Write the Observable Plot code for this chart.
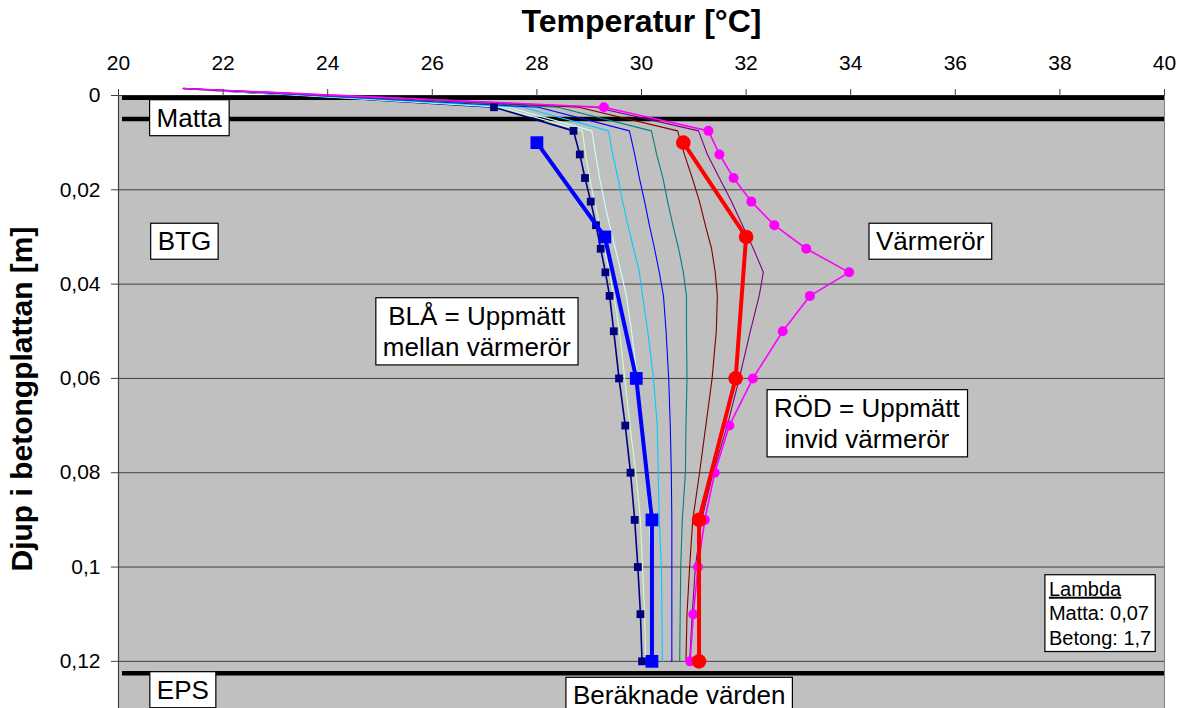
<!DOCTYPE html>
<html><head><meta charset="utf-8">
<script src="https://cdn.jsdelivr.net/npm/d3@7"></script>
<script src="https://cdn.jsdelivr.net/npm/@observablehq/plot@0.6"></script>
<style>
html,body{margin:0;padding:0;background:#fff;}
svg{display:block;}
</style></head><body>
<div id="chart"></div>
<script>
// ---------- data ----------
const xTicks = [20, 22, 24, 26, 28, 30, 32, 34, 36, 38, 40];
const yTicks = [0, 0.02, 0.04, 0.06, 0.08, 0.1, 0.12];

// calculated profiles (Beräknade värden)
const calcDepths = [-0.0015, 0.0025, 0.0075, 0.0125, 0.0175, 0.0225, 0.0275, 0.0325, 0.0375, 0.0425, 0.05, 0.06, 0.07, 0.08, 0.09, 0.1, 0.11, 0.12];
const navyT      = [21.24, 27.18, 28.70, 28.82, 28.92, 29.03, 29.13, 29.22, 29.31, 29.39, 29.47, 29.57, 29.69, 29.79, 29.87, 29.93, 29.98, 30.01];
const paleGreenT = [21.24, 27.31, 28.87, 28.93, 29.01, 29.10, 29.20, 29.29, 29.39, 29.47, 29.58, 29.68, 29.78, 29.89, 29.98, 30.02, 30.06, 30.08];
const paleCyanT  = [21.24, 27.46, 29.05, 29.12, 29.20, 29.29, 29.39, 29.50, 29.61, 29.71, 29.81, 29.92, 30.02, 30.09, 30.15, 30.18, 30.20, 30.21];
const cyanT      = [21.24, 27.73, 29.37, 29.45, 29.55, 29.64, 29.74, 29.85, 29.96, 30.02, 30.12, 30.23, 30.30, 30.32, 30.34, 30.38, 30.39, 30.40];
const blueT      = [21.24, 28.03, 29.77, 29.87, 29.96, 30.06, 30.15, 30.25, 30.34, 30.42, 30.47, 30.52, 30.55, 30.57, 30.58, 30.58, 30.58, 30.58];
const tealT      = [21.24, 28.40, 30.19, 30.29, 30.41, 30.50, 30.60, 30.71, 30.80, 30.86, 30.86, 30.87, 30.85, 30.84, 30.78, 30.75, 30.74, 30.73];
const darkRedT   = [21.24, 28.80, 30.69, 30.82, 30.97, 31.11, 31.22, 31.34, 31.41, 31.45, 31.43, 31.35, 31.23, 31.11, 30.98, 30.92, 30.87, 30.85];
const purpleT    = [21.24, 29.12, 31.09, 31.26, 31.49, 31.72, 31.93, 32.14, 32.33, 32.25, 32.08, 31.87, 31.64, 31.37, 31.15, 31.03, 30.97, 30.92];
const magentaT   = [21.24, 29.28, 31.28, 31.49, 31.76, 32.10, 32.54, 33.15, 33.97, 33.22, 32.70, 32.13, 31.68, 31.40, 31.21, 31.08, 30.99, 30.93];

// measured profiles
const measDepths = [0.01, 0.03, 0.06, 0.09, 0.12];
const blueMeasT  = [28.0, 29.3, 29.9, 30.2, 30.2];   // BLÅ = Uppmätt mellan värmerör
const redMeasT   = [30.8, 32.0, 31.8, 31.1, 31.1];   // RÖD = Uppmätt invid värmerör

// layer boundaries (yta, matta/betong, betong/EPS)
const layerDepths = [0.0005, 0.005, 0.1225];

// annotations
const annoText  = ["Matta", "BTG", "BLÅ = Uppmätt\nmellan värmerör", "Värmerör", "RÖD = Uppmätt\ninvid värmerör", "EPS", "Beräknade värden"];
const annoT     = [21.35, 21.26, 26.85, 35.52, 34.31, 21.23, 30.72];
const annoDepth = [0.0045, 0.0307, 0.0498, 0.0307, 0.0693, 0.1258, 0.1270];
const lambdaText  = ["Lambda\nMatta: 0,07\nBetong: 1,7"];
const lambdaT     = [37.79];
const lambdaDepth = [0.1096];

const titleText = "Temperatur [°C]";
const yLabelText = "Djup i betongplattan [m]";

// ---------- styling ----------
const calcSeries = [
  {temps: navyT,      color: "#000080"},
  {temps: paleGreenT, color: "#CCFFCC"},
  {temps: paleCyanT,  color: "#CCFFFF"},
  {temps: cyanT,      color: "#00CCFF"},
  {temps: blueT,      color: "#0000FF"},
  {temps: tealT,      color: "#008080"},
  {temps: darkRedT,   color: "#800000"},
  {temps: purpleT,    color: "#800080"},
  {temps: magentaT,   color: "#FF00FF"}
];
const toRows = (depths, temps) => depths.map((d, i) => ({depth: d, temp: temps[i]}));
const FONT = "'Liberation Sans', Arial, sans-serif";

const marks = [
  Plot.frame({fill: "#C0C0C0", stroke: "#808080"}),
  Plot.gridY(yTicks, {stroke: "#404040", strokeOpacity: 1, strokeWidth: 1}),
  Plot.ruleY(layerDepths, {stroke: "black", strokeWidth: 4.5, insetLeft: 4}),
];
calcSeries.forEach(s => {
  const wide = s.color === "#000080" || s.color === "#FF00FF";
  marks.push(Plot.line(toRows(calcDepths, s.temps), {x: "temp", y: "depth", stroke: s.color, strokeWidth: wide ? 1.6 : 1.1}));
});
marks.push(Plot.dot(toRows(calcDepths, navyT).slice(1), {x: "temp", y: "depth", symbol: "square", r: 4.4, fill: "#000080"}));
marks.push(Plot.dot(toRows(calcDepths, magentaT).slice(1), {x: "temp", y: "depth", symbol: "circle", r: 5, fill: "#FF00FF"}));
marks.push(Plot.line(toRows(measDepths, blueMeasT), {x: "temp", y: "depth", stroke: "#0000FF", strokeWidth: 4}));
marks.push(Plot.dot(toRows(measDepths, blueMeasT), {x: "temp", y: "depth", symbol: "square", r: 7.2, fill: "#0000FF"}));
marks.push(Plot.line(toRows(measDepths, redMeasT), {x: "temp", y: "depth", stroke: "#FF0000", strokeWidth: 4}));
marks.push(Plot.dot(toRows(measDepths, redMeasT), {x: "temp", y: "depth", symbol: "circle", r: 7.3, fill: "#FF0000"}));

marks.push(Plot.text(annoText, {x: (d, i) => annoT[i], y: (d, i) => annoDepth[i], text: d => d,
  fontSize: 26, lineHeight: 1.2, textAnchor: "middle", lineAnchor: "middle", fill: "black"}));
marks.push(Plot.text(lambdaText, {x: (d, i) => lambdaT[i], y: (d, i) => lambdaDepth[i], text: d => d,
  fontSize: 20, lineHeight: 1.22, textAnchor: "start", lineAnchor: "middle", fill: "black"}));

marks.push(Plot.ruleX([20], {stroke: "#404040", strokeWidth: 1.2}));
marks.push(Plot.axisX({anchor: "top", ticks: xTicks, tickSize: 7, tickPadding: 19, fontSize: 21, stroke: "#404040", fill: "black", label: null, tickFormat: d => String(d)}));
marks.push(Plot.axisY({anchor: "left", ticks: yTicks, tickSize: 7, tickPadding: 11, fontSize: 21, stroke: "#404040", fill: "black", label: null,
  tickFormat: d => String(+d.toFixed(3)).replace(".", ",")}));
marks.push(Plot.text([titleText], {frameAnchor: "top", dy: -74, text: d => d, fontSize: 32, fontWeight: "bold", textAnchor: "middle", lineAnchor: "middle", fill: "black"}));
marks.push(Plot.text([yLabelText], {frameAnchor: "left", dx: -96, dy: -3, rotate: -90, text: d => d, fontSize: 30, fontWeight: "bold", textAnchor: "middle", lineAnchor: "middle", fill: "black"}));

const chart = Plot.plot({
  width: 1184, height: 708,
  marginLeft: 118, marginRight: 20, marginTop: 95, marginBottom: 0,
  style: {fontFamily: FONT, background: "white", color: "black", overflow: "visible"},
  x: {domain: [20, 40]},
  y: {domain: [0, 0.13], reverse: true},
  marks
});
document.getElementById("chart").append(chart);

// white boxes behind annotation texts
const NS = "http://www.w3.org/2000/svg";
const flat = s => s.replace(/\n/g, "");
const annoSet = new Set(annoText.map(flat));
const lambdaSet = new Set(lambdaText.map(flat));
chart.querySelectorAll("text").forEach(t => {
  const content = t.textContent;
  const isAnno = annoSet.has(content);
  const isLambda = lambdaSet.has(content);
  if (!isAnno && !isLambda) return;
  if (isLambda) {
    const first = t.querySelector("tspan");
    if (first) first.setAttribute("text-decoration", "underline");
  }
  const bb = t.getBBox();
  const px = isLambda ? 4 : 7, py = 3;
  const r = document.createElementNS(NS, "rect");
  r.setAttribute("x", bb.x - px);
  r.setAttribute("y", bb.y - py);
  r.setAttribute("width", bb.width + 2 * px);
  r.setAttribute("height", bb.height + 2 * py);
  r.setAttribute("fill", "white");
  r.setAttribute("stroke", "black");
  r.setAttribute("stroke-width", "1.2");
  const tr = t.getAttribute("transform");
  if (tr) r.setAttribute("transform", tr);
  t.parentNode.insertBefore(r, t);
});
</script>
</body></html>
